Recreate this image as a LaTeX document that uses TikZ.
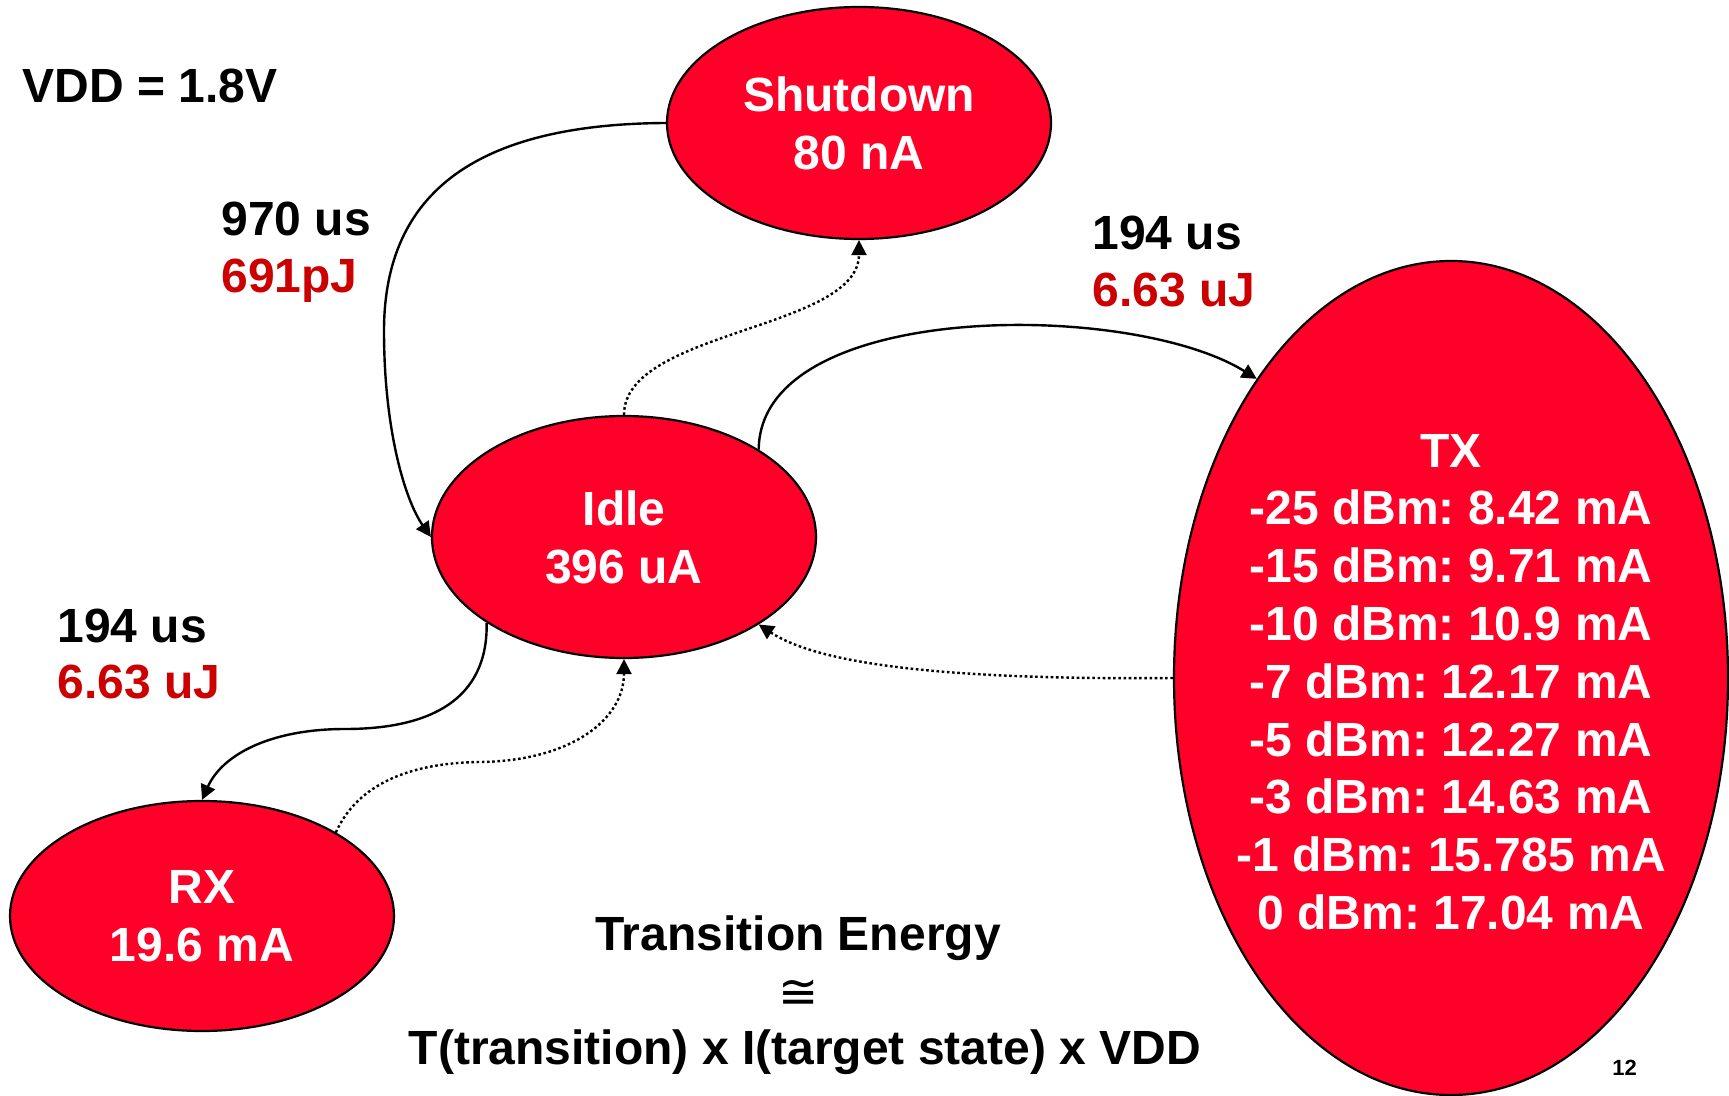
\documentclass[tikz,border=0pt]{standalone}
\usepackage{fontspec}
\setmainfont{Liberation Sans}
\newfontfamily\symfont{DejaVu Sans}
\usetikzlibrary{arrows.meta,shapes.geometric}
\definecolor{statered}{RGB}{255,0,40}
\definecolor{costred}{RGB}{204,0,0}

\begin{document}
\frenchspacing
\begin{tikzpicture}[x=0.5pt,y=-0.5pt,
  state/.style={ellipse, draw=black, line width=1.1pt, fill=statered, inner sep=0pt},
  statetext/.style={text=white, font=\fontsize{24}{28.9}\selectfont\bfseries, align=center, inner sep=0pt},
  lbl/.style={font=\fontsize{24}{28.5}\selectfont\bfseries, anchor=base west, inner sep=0pt},
  go/.style={line width=1.2pt, -{Triangle[length=7.5pt,width=7.5pt]}},
  back/.style={go, dash pattern=on 1.3pt off 1.3pt},
]
% canvas
\fill[white] (0,0) rectangle (1729,1096);
\useasboundingbox (0,0) rectangle (1729,1096);

% states
\node[state, minimum width=192pt, minimum height=116pt,
      label={[statetext]center:Shutdown\\80 nA}] (shut) at (859,123) {};
\node[state, minimum width=192pt, minimum height=121pt,
      label={[statetext]center:Idle\\396 uA}] (idle) at (624,537) {};
\node[state, minimum width=192pt, minimum height=115pt,
      label={[statetext]center:RX\\19.6 mA}] (rx) at (202,916) {};
\node[state, minimum width=277pt, minimum height=417pt,
      label={[statetext, yshift=-2pt]center:TX\\-25 dBm: 8.42 mA\\-15 dBm: 9.71 mA\\-10 dBm: 10.9 mA\\-7 dBm: 12.17 mA\\-5 dBm: 12.27 mA\\-3 dBm: 14.63 mA\\-1 dBm: 15.785 mA\\0 dBm: 17.04 mA}] (tx) at (1451,678) {};

% transitions
\draw[go] (shut.west) .. controls (480,124) and (384,190) .. (384,331)
          .. controls (384,430) and (405,500) .. (idle.west);
\draw[back] (idle.north) .. controls (624,330) and (859,330) .. (shut.south);
\draw[go] (idle.33) .. controls (760,300) and (1130,300) .. (tx.123);
\draw[go] (idle.212) .. controls (488,700) and (430,729) .. (345,729)
          .. controls (270,729) and (222,755) .. (rx.north);
\draw[back] (rx.32) .. controls (355,790) and (400,763) .. (480,762)
            .. controls (570,761) and (624,720) .. (idle.south);
\draw[back] (tx.west) .. controls (950,680) and (820,665) .. (idle.-33);

% annotations
\node[lbl] (vdd) at (22,103) {VDD = 1.8V};
\node[lbl] (t1) at (221,236) {970 us};
\node[lbl, text=costred] (e1) at (221,293) {691pJ};
\node[lbl] (t2) at (1092,250) {194 us};
\node[lbl, text=costred] (e2) at (1092,307) {6.63 uJ};
\node[lbl] (t3) at (57,642) {194 us};
\node[lbl, text=costred] (e3) at (57,698) {6.63 uJ};

\node[lbl, anchor=base] (form1) at (798,950) {Transition Energy};
\node[font=\symfont\fontsize{24}{24}\selectfont, inner sep=0pt] (approx) at (799,994) {≅};
\node[lbl, anchor=base] (form2) at (805,1064) {T(transition) x I(target state) x VDD};
\node[font=\fontsize{11}{11}\selectfont\bfseries, anchor=base west, inner sep=0pt] (page) at (1612,1075) {12};
\end{tikzpicture}
\end{document}
